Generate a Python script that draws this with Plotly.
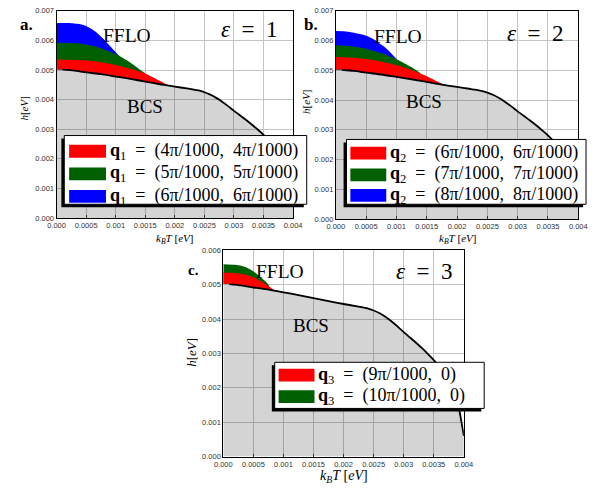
import plotly.graph_objects as go

W, H = 596, 490

# ---------------- data ----------------
T_bcs = [0.0, 0.0001, 0.0003, 0.0005, 0.00075, 0.001, 0.00125, 0.0015, 0.00175, 0.002,
         0.0022, 0.0023, 0.0024, 0.0025, 0.0026, 0.0027, 0.0028, 0.0029, 0.003, 0.0031,
         0.0032, 0.0033, 0.0034, 0.0035, 0.0036, 0.0037, 0.0038, 0.0039, 0.004]
h_bcs = [0.00503, 0.00502, 0.00498, 0.00492, 0.00486, 0.00478, 0.00470, 0.00461, 0.00452, 0.00444,
         0.00438, 0.00435, 0.00431, 0.00425, 0.00417, 0.00406, 0.00393, 0.00378, 0.00362, 0.00347,
         0.00332, 0.00316, 0.00299, 0.00281, 0.00260, 0.00236, 0.00205, 0.00155, 0.00060]

# panel a (epsilon = 1)
Ta_red = [0.0, 0.00025, 0.0005, 0.00075, 0.001, 0.00125, 0.0015, 0.0017, 0.0019]
ha_red = [0.00536, 0.00535, 0.00532, 0.00526, 0.00517, 0.00504, 0.00488, 0.00468, 0.00447]
Ta_green = [0.0, 0.00025, 0.0005, 0.00075, 0.001, 0.00125, 0.0014, 0.0015]
ha_green = [0.00592, 0.00591, 0.00586, 0.00574, 0.00554, 0.00525, 0.00503, 0.00489]
Ta_blue = [0.0, 0.0002, 0.0004, 0.0005, 0.0006, 0.0007, 0.0008, 0.0009, 0.001, 0.00107]
ha_blue = [0.00659, 0.00659, 0.00655, 0.00649, 0.00638, 0.00623, 0.00604, 0.00582, 0.00560, 0.00546]

# panel b (epsilon = 2)
Tb_red = [0.0, 0.00025, 0.0005, 0.00075, 0.001, 0.00125, 0.0015, 0.0017, 0.00185]
hb_red = [0.00545, 0.00543, 0.00538, 0.00530, 0.00518, 0.00501, 0.00480, 0.00460, 0.00446]
Tb_green = [0.0, 0.00025, 0.0005, 0.00075, 0.001, 0.00125, 0.0014]
hb_green = [0.00584, 0.00581, 0.00573, 0.00558, 0.00537, 0.00510, 0.00490]
Tb_blue = [0.0, 0.0002, 0.0004, 0.0005, 0.0006, 0.0007, 0.0008, 0.0009, 0.001]
hb_blue = [0.00632, 0.00630, 0.00622, 0.00616, 0.00607, 0.00594, 0.00579, 0.00560, 0.00538]

# panel c (epsilon = 3)
Tc_red = [0.0, 0.0002, 0.0004, 0.0005, 0.0006, 0.0007, 0.00085]
hc_red = [0.00536, 0.00534, 0.00528, 0.00522, 0.00513, 0.00502, 0.00484]
Tc_green = [0.0, 0.0002, 0.0003, 0.0004, 0.0005, 0.0006, 0.0007, 0.00076]
hc_green = [0.00560, 0.00558, 0.00555, 0.00549, 0.00539, 0.00525, 0.00510, 0.00498]

labels_a = ["(4π/1000,  4π/1000)", "(5π/1000,  5π/1000)", "(6π/1000,  6π/1000)"]
labels_b = ["(6π/1000,  6π/1000)", "(7π/1000,  7π/1000)", "(8π/1000,  8π/1000)"]
labels_c = ["(9π/1000,  0)", "(10π/1000,  0)"]

x_ticks = [0.0, 0.0005, 0.001, 0.0015, 0.002, 0.0025, 0.003, 0.0035, 0.004]
x_ticktext = ["0.000", "0.0005", "0.001", "0.0015", "0.002", "0.0025", "0.003", "0.0035", "0.004"]
y_ticks7 = [0.0, 0.001, 0.002, 0.003, 0.004, 0.005, 0.006, 0.007]
y_ticktext7 = ["0.000", "0.001", "0.002", "0.003", "0.004", "0.005", "0.006", "0.007"]
y_ticks6 = y_ticks7[:7]
y_ticktext6 = y_ticktext7[:7]

RED, GREEN, BLUE = "#ff0000", "#006000", "#0000ff"
GREY_FILL = "rgba(0,0,0,0.17)"
SERIF = "Liberation Serif, Times New Roman, serif"
SANS = "Liberation Sans, Arial, sans-serif"

fig = go.Figure()


def band(T_top, h_top, color, xa, ya):
    end = T_top[-1]
    lowT = [t for t in T_bcs if t <= end]
    lowH = [h for t, h in zip(T_bcs, h_bcs) if t <= end]
    fig.add_trace(go.Scatter(x=lowT, y=lowH, mode="lines",
                             line=dict(width=0, shape="spline", smoothing=0.6),
                             xaxis=xa, yaxis=ya, showlegend=False, hoverinfo="skip"))
    fig.add_trace(go.Scatter(x=T_top, y=h_top, mode="lines", fill="tonexty", fillcolor=color,
                             line=dict(width=0, color=color, shape="spline", smoothing=0.8),
                             xaxis=xa, yaxis=ya, showlegend=False, hoverinfo="skip"))


def panel(xa, ya, bands):
    fig.add_trace(go.Scatter(x=T_bcs, y=h_bcs, mode="lines", fill="tozeroy",
                             fillcolor=GREY_FILL, line=dict(width=0, shape="spline", smoothing=0.6),
                             xaxis=xa, yaxis=ya, showlegend=False, hoverinfo="skip"))
    for T, h, c in bands:
        band(T, h, c, xa, ya)
    fig.add_trace(go.Scatter(x=T_bcs[1:], y=h_bcs[1:], mode="lines",
                             line=dict(color="black", width=1.8, shape="spline", smoothing=0.6),
                             xaxis=xa, yaxis=ya, showlegend=False, hoverinfo="skip"))


panel("x", "y", [(Ta_blue, ha_blue, BLUE), (Ta_green, ha_green, GREEN), (Ta_red, ha_red, RED)])
panel("x2", "y2", [(Tb_blue, hb_blue, BLUE), (Tb_green, hb_green, GREEN), (Tb_red, hb_red, RED)])
panel("x3", "y3", [(Tc_green, hc_green, GREEN), (Tc_red, hc_red, RED)])


def px(x):
    return x / W


def py(y):
    return 1 - y / H


def xaxis(dom, anchor):
    return dict(domain=dom, anchor=anchor, range=[0, 0.004], tickvals=x_ticks, ticktext=x_ticktext,
                showgrid=True, gridcolor="#c4c4c4", gridwidth=1, zeroline=False,
                showline=True, linecolor="black", linewidth=1, mirror=True,
                ticks="inside", ticklen=3, tickcolor="#333", layer="above traces",
                tickfont=dict(family=SANS, size=7.5, color="#333"))


def yaxis(dom, anchor, top, tv, tt):
    return dict(domain=dom, anchor=anchor, range=[0, top], tickvals=tv, ticktext=tt,
                showgrid=True, gridcolor="#c4c4c4", gridwidth=1, zeroline=False,
                showline=True, linecolor="black", linewidth=1, mirror=True,
                ticks="", layer="above traces",
                tickfont=dict(family=SANS, size=7.5, color="#333"))


fig.update_layout(
    width=W, height=H, autosize=False,
    margin=dict(l=0, r=0, t=0, b=0),
    paper_bgcolor="white", plot_bgcolor="white",
    xaxis=xaxis([px(49), px(293)], "y"),
    yaxis=yaxis([py(218), py(7)], "x", 0.007, y_ticks7, y_ticktext7),
    xaxis2=xaxis([px(337), px(587)], "y2"),
    yaxis2=yaxis([py(219), py(7)], "x2", 0.007, y_ticks7, y_ticktext7),
    xaxis3=xaxis([px(221), px(469)], "y3"),
    yaxis3=yaxis([py(461), py(251)], "x3", 0.006, y_ticks6, y_ticktext6),
)

shapes = []
annotations = []


def text(x, y, s, size, angle=0, xanchor="center", family=SERIF, weight="normal"):
    annotations.append(dict(x=px(x), y=py(y), xref="paper", yref="paper", text=s, showarrow=False,
                            font=dict(family=family, size=size, color="black", weight=weight),
                            xanchor=xanchor, yanchor="middle", textangle=angle))


def legend_box(x0, y0, x1, y1, sw_x0, sw_x1, rows, colors, labels, sub):
    shapes.append(dict(type="rect", xref="paper", yref="paper", x0=px(x0 - 3), x1=px(x1 - 3),
                       y0=py(y1 + 3), y1=py(y0 + 3), fillcolor="black", line=dict(width=0),
                       layer="above"))
    shapes.append(dict(type="rect", xref="paper", yref="paper", x0=px(x0), x1=px(x1),
                       y0=py(y1), y1=py(y0), fillcolor="white", line=dict(color="black", width=1),
                       layer="above"))
    for r, c, lab in zip(rows, colors, labels):
        shapes.append(dict(type="rect", xref="paper", yref="paper", x0=px(sw_x0), x1=px(sw_x1),
                           y0=py(r + 6.5), y1=py(r - 6.5), fillcolor=c, line=dict(width=0),
                           layer="above"))
        text(sw_x1 + 2, r, "<b>q</b><sub>%s</sub>  =  %s" % (sub, lab), 18, xanchor="left")


legend_box(57, 134, 307, 204, 62, 100, [150, 173, 196], [RED, GREEN, BLUE], labels_a, "1")
legend_box(348, 138, 595, 204, 352, 389, [152, 174, 195], [RED, GREEN, BLUE], labels_b, "2")
legend_box(274, 365, 490, 412, 278, 315, [378, 400], [RED, GREEN], labels_c, "3")

# region labels
text(122, 32, "FFLO", 19.5)
text(140, 104, "BCS", 19)
text(401, 33, "FFLO", 19.5)
text(428, 99, "BCS", 19)
text(279, 272, "FFLO", 19.5)
text(311, 328, "BCS", 19)

text(248, 26, "<i>ε</i>  =  1", 23)
text(543, 30, "<i>ε</i>  =  2", 23)
text(428, 272, "<i>ε</i>  =  3", 23)

text(18, 21, "a.", 17, weight="bold")
text(311, 21, "b.", 17, weight="bold")
text(190, 271, "c.", 15, weight="bold")

# axis titles
text(171, 239, "<i>k<sub>B</sub>T</i> [<i>eV</i>]", 11)
text(462, 239, "<i>k<sub>B</sub>T</i> [<i>eV</i>]", 11)
text(345, 481, "<i>k<sub>B</sub>T</i> [<i>eV</i>]", 14)
text(15, 107, "<i>h</i>[<i>eV</i>]", 11, angle=-90)
text(306, 100, "<i>h</i>[<i>eV</i>]", 11, angle=-90)
text(188, 355, "<i>h</i>[<i>eV</i>]", 13, angle=-90)

fig.update_layout(shapes=shapes, annotations=annotations)
fig.write_html("out.html", config={"displayModeBar": False},
               post_script="document.body.style.margin='0';document.body.style.overflow='hidden';")
